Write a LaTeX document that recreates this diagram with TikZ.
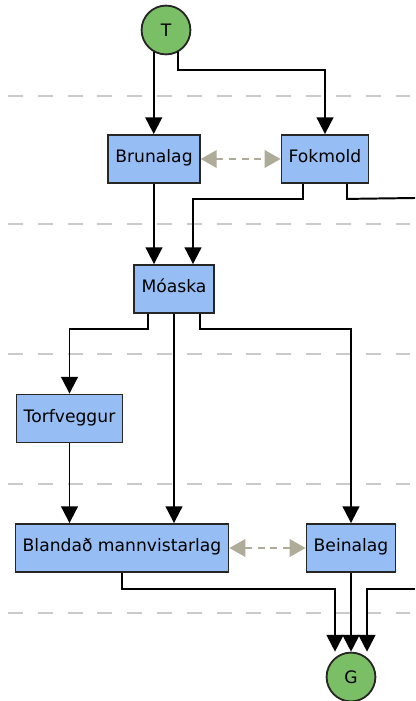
\documentclass[tikz,border=0pt]{standalone}
\usepackage{fontspec}
\setmainfont{DejaVu Sans}
\usepackage{xcolor}
\usetikzlibrary{arrows.meta,positioning,calc}

\definecolor{layerblue}{RGB}{150,190,245}
\definecolor{endgreen}{RGB}{122,190,102}
\definecolor{linkgray}{RGB}{174,171,152}
\definecolor{rulegray}{RGB}{202,202,202}

\begin{document}
\begin{tikzpicture}[
    x=0.025cm, y=-0.025cm,
    layer/.style={rectangle, draw=black!85, line width=1.3pt, fill=layerblue, minimum height=1.2cm, inner xsep=0.18cm, text height=0.75em, text depth=0.22em, font=\fontsize{12.2}{14}\selectfont},
    terminal/.style={circle, draw=black!85, line width=1.3pt, fill=endgreen, minimum size=1.22cm, inner sep=0pt, font=\fontsize{12.2}{14}\selectfont},
    arrow/.style={-{Triangle[length=0.42cm, width=0.42cm]}, line width=1.4pt, black},
    link/.style={{Triangle[length=0.4cm, width=0.44cm]}-{Triangle[length=0.4cm, width=0.44cm]}, line width=1.3pt, linkgray, dash pattern=on 5pt off 4pt},
    separator/.style={rulegray, line width=1.4pt, dash pattern=on 10.6pt off 10.6pt},
]
\useasboundingbox (0,0) rectangle (415,701);

% Phase separators
\foreach \y in {96,224,354,484,613}
    \draw[separator] (8,\y) -- (415,\y);

% Start and end
\node[terminal] (T) at (166,30) {T};
\node[terminal] (G) at (351,677) {G};

% Layers
\node[layer] (brun) at (154,159) {Brunalag};
\node[layer] (fok) at (325,159) {Fokmold};
\node[layer] (moa) at (174,289) {Móaska};
\node[layer] (torf) at (69.5,418.5) {Torfveggur};
\node[layer] (blan) at (122,548) {Blandað mannvistarlag};
\node[layer] (bein) at (351,548) {Beinalag};

% Loose ends at the right border
\coordinate (eastA) at (415,198);
\coordinate (eastB) at (415,589);

% Arrows - start
\draw[arrow] (T.-119) -- (T.-119 |- brun.north);
\draw[arrow] (T.-61) -- ++(0,18) -| (fok.north);

% Arrows - into Moaska
\draw[arrow] (brun.south) -- (brun.south |- moa.north);
\draw[arrow] ($(fok.south)+(-22,0)$) -- ++(0,15) -| ($(moa.north)+(19,0)$);
\draw[line width=1.4pt] ($(fok.south)+(22,0)$) -- ++(0,15) -- (eastA);

% Arrows - out of Moaska
\draw[arrow] ($(moa.south)+(-26,0)$) -- ++(0,15.5) -| (torf.north);
\draw[arrow] (moa.south) -- (moa.south |- blan.north);
\draw[arrow] ($(moa.south)+(26,0)$) -- ++(0,15.5) -| (bein.north);
\draw[arrow] (torf.south) -- (torf.south |- blan.north);

% Arrows - end
\draw[arrow] (blan.south) -- ++(0,16) -| ($(G.north)+(-16,0)$);
\draw[arrow] (bein.south) -- (bein.south |- G.north);
\draw[arrow] (eastB) -| ($(G.north)+(16,0)$);

% Same-phase links
\draw[link] (brun.east) -- (fok.west);
\draw[link] (blan.east) -- (bein.west);

\end{tikzpicture}
\end{document}
